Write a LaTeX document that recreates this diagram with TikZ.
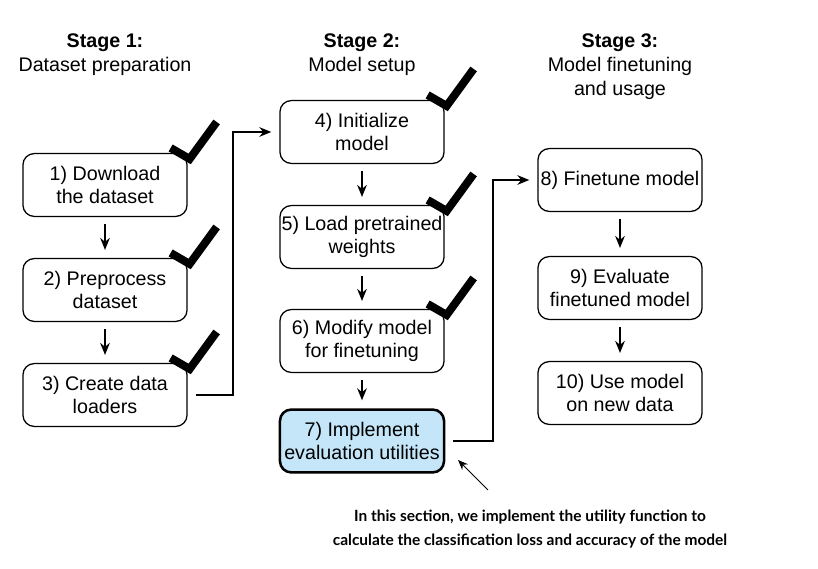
\documentclass[tikz,border=0pt]{standalone}
\usepackage{fontspec}
\setmainfont{Liberation Sans}
\newfontfamily\notefont{Lato}
\usetikzlibrary{arrows.meta, positioning}

\definecolor{evalblue}{RGB}{196,230,248}

\begin{document}
\begin{tikzpicture}[
    x=0.025cm, y=-0.025cm,
    stepbox/.style={rectangle, draw, line width=0.9pt, rounded corners=0.28cm, minimum width=4.1cm, minimum height=1.57cm, align=center, inner sep=1pt, font=\fontsize{14}{16.5}\selectfont},
    current/.style={stepbox, fill=evalblue, line width=1.8pt},
    title/.style={align=center, font=\fontsize{14}{17}\selectfont},
    flow/.style={-{Stealth[length=3mm, width=2.4mm]}, line width=1.3pt, shorten <=0.18cm, shorten >=0.2cm},
    elbow/.style={-{Stealth[length=3mm, width=2.4mm]}, line width=1.3pt, shorten <=0.2cm, shorten >=0.2cm},
    notearrow/.style={-{Stealth[length=2.5mm, width=2mm]}, line width=0.6pt},
    donemark/.pic={\draw[line width=0.2cm, line cap=butt, line join=miter] (-17,-5) -- (2,6) -- (29,-31);}
]
\useasboundingbox (0,0) rectangle (818,569);

% Stage titles
\node[title] (t1) at (105,55) {\textbf{Stage 1:}\\Dataset preparation};
\node[title] (t2) at (362,55) {\textbf{Stage 2:}\\Model setup};
\node[title] (t3) at (620,67) {\textbf{Stage 3:}\\Model finetuning\\and usage};

% Stage 1
\node[stepbox] (b1) at (105,185) {1) Download\\the dataset};
\node[stepbox] (b2) at (105,290) {2) Preprocess\\dataset};
\node[stepbox] (b3) at (105,395) {3) Create data\\loaders};

% Stage 2
\node[stepbox] (b4) at (362,132) {4) Initialize\\model};
\node[stepbox] (b5) at (362,237) {5) Load pretrained\\weights};
\node[stepbox] (b6) at (362,341) {6) Modify model\\for finetuning};
\node[current] (b7) at (362,441) {7) Implement\\evaluation utilities};

% Stage 3
\node[stepbox] (b8) at (620,180) {8) Finetune model};
\node[stepbox] (b9) at (620,288) {9) Evaluate\\finetuned model};
\node[stepbox] (b10) at (620,393) {10) Use model\\on new data};

% Done marks
\foreach \b in {b1,b2,b3,b4,b5,b6}
  \pic at (\b.north east) {donemark};

% Arrows within stages
\draw[flow] (b1) -- (b2);
\draw[flow] (b2) -- (b3);
\draw[flow] (b4) -- (b5);
\draw[flow] (b5) -- (b6);
\draw[flow] (b6) -- (b7);
\draw[flow] (b8) -- (b9);
\draw[flow] (b9) -- (b10);

% Arrows between stages
\coordinate (j1) at (233,260);
\coordinate (j2) at (493,300);
\draw[elbow] (b3.east) -| (j1) |- (b4.west);
\draw[elbow] (b7.east) -| (j2) |- (b8.west);

% Note
\node[align=center, font=\notefont\bfseries\fontsize{11}{17}\selectfont] (note) at (530,529) {In this section, we implement the utility function to\\calculate the classification loss and accuracy of the model};
\coordinate (notetail) at (488,490);
\coordinate (notetip) at (458,460);
\draw[notearrow] (notetail) -- (notetip);

\end{tikzpicture}
\end{document}
